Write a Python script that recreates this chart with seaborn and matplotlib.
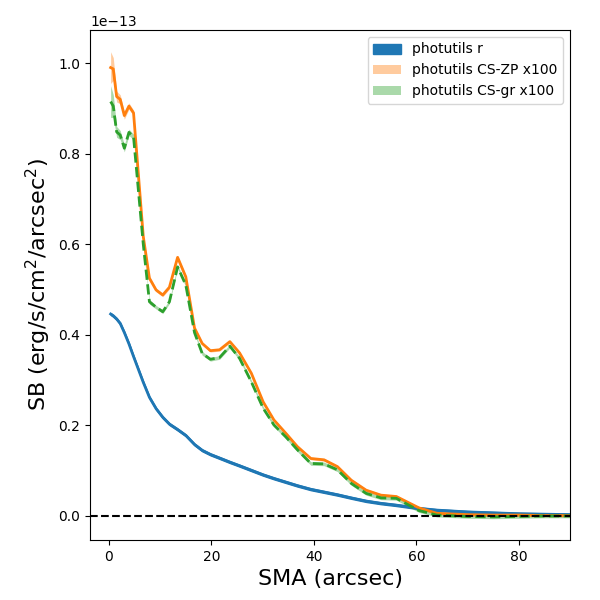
import numpy as np
import pandas as pd
import seaborn as sns
import matplotlib
matplotlib.use("Agg")
import matplotlib.pyplot as plt

# SMA grid (arcsec) and surface brightness profiles in units of 1e-13 erg/s/cm^2/arcsec^2
sma = [0.33, 0.84, 1.5, 2.2, 3.0, 3.9, 4.8, 6.7, 7.9, 9.2, 10.5, 11.8, 13.4, 15.0,
       16.7, 18.2, 19.8, 21.6, 23.6, 25.5, 27.8, 30.1, 32.2, 34.5, 36.8, 39.4, 42.0,
       44.6, 47.3, 50.2, 53.1, 56.1, 60.5, 64.0, 70.0, 75.0, 80.0, 85.0, 90.0, 95.0]

sb_r = [0.446, 0.442, 0.435, 0.425, 0.405, 0.380, 0.352, 0.295, 0.262, 0.237, 0.218,
        0.203, 0.191, 0.178, 0.158, 0.145, 0.136, 0.128, 0.119, 0.111, 0.101, 0.091,
        0.083, 0.075, 0.067, 0.059, 0.053, 0.047, 0.040, 0.033, 0.028, 0.024, 0.017,
        0.013, 0.009, 0.007, 0.005, 0.004, 0.003, 0.003]
err_r = [0.002, 0.002, 0.002, 0.002, 0.002, 0.002, 0.002, 0.002, 0.002, 0.002, 0.002,
         0.002, 0.002, 0.002, 0.002, 0.002, 0.002, 0.002, 0.002, 0.002, 0.002, 0.002,
         0.002, 0.002, 0.002, 0.002, 0.002, 0.002, 0.002, 0.002, 0.002, 0.002, 0.002,
         0.002, 0.002, 0.002, 0.002, 0.002, 0.002, 0.002]

# CS profiles already multiplied by 100
sb_zp = [0.990, 0.987, 0.926, 0.920, 0.884, 0.905, 0.890, 0.617, 0.525, 0.499, 0.488,
         0.505, 0.571, 0.528, 0.415, 0.381, 0.365, 0.367, 0.385, 0.360, 0.315, 0.252,
         0.212, 0.183, 0.153, 0.127, 0.124, 0.109, 0.079, 0.057, 0.046, 0.043, 0.018,
         0.006, 0.003, 0.002, 0.002, 0.001, 0.001, 0.001]
err_zp = [0.035, 0.025, 0.012, 0.010, 0.008, 0.007, 0.006, 0.005, 0.005, 0.004, 0.004,
          0.004, 0.004, 0.004, 0.003, 0.003, 0.003, 0.003, 0.003, 0.003, 0.003, 0.003,
          0.003, 0.003, 0.003, 0.003, 0.003, 0.003, 0.003, 0.003, 0.003, 0.003, 0.003,
          0.003, 0.003, 0.003, 0.003, 0.003, 0.003, 0.003]

sb_gr = [0.915, 0.905, 0.848, 0.841, 0.812, 0.847, 0.837, 0.600, 0.473, 0.461, 0.451,
         0.473, 0.550, 0.510, 0.405, 0.359, 0.346, 0.350, 0.375, 0.348, 0.296, 0.238,
         0.201, 0.175, 0.146, 0.116, 0.115, 0.102, 0.072, 0.050, 0.040, 0.039, 0.012,
         0.002, -0.001, -0.002, -0.001, 0.000, 0.000, 0.000]
err_gr = [0.035, 0.025, 0.012, 0.010, 0.008, 0.007, 0.006, 0.005, 0.005, 0.004, 0.004,
          0.004, 0.004, 0.004, 0.004, 0.004, 0.004, 0.004, 0.004, 0.004, 0.004, 0.004,
          0.004, 0.004, 0.004, 0.004, 0.004, 0.004, 0.004, 0.004, 0.004, 0.004, 0.004,
          0.004, 0.004, 0.004, 0.004, 0.004, 0.004, 0.004]

scale = 1e-13
df = pd.DataFrame({"sma": sma,
                   "r": np.array(sb_r) * scale, "r_err": np.array(err_r) * scale,
                   "zp": np.array(sb_zp) * scale, "zp_err": np.array(err_zp) * scale,
                   "gr": np.array(sb_gr) * scale, "gr_err": np.array(err_gr) * scale})

fig = plt.figure(figsize=(6, 6), dpi=100)
ax = fig.add_axes([0.15, 0.10, 0.80, 0.85])

# photutils r-band profile
ax.fill_between(df.sma, df.r - df.r_err, df.r + df.r_err, color="C0", label="photutils r")
sns.lineplot(data=df, x="sma", y="r", color="C0", lw=2, ax=ax)

# CS profiles scaled by 100
ax.fill_between(df.sma, df.zp - df.zp_err, df.zp + df.zp_err, color="C1", alpha=0.4,
                lw=0, label="photutils CS-ZP x100")
sns.lineplot(data=df, x="sma", y="zp", color="C1", lw=2, ax=ax)

ax.fill_between(df.sma, df.gr - df.gr_err, df.gr + df.gr_err, color="C2", alpha=0.4,
                lw=0, label="photutils CS-gr x100")
sns.lineplot(data=df, x="sma", y="gr", color="C2", lw=2, ls="--", ax=ax)

ax.axhline(0, color="k", ls="--", lw=1.5)

ax.set_xlim(-3.7, 90)
ax.set_ylim(-0.053e-13, 1.073e-13)
ax.set_xlabel("SMA (arcsec)", fontsize=16)
ax.set_ylabel("SB (erg/s/cm$^2$/arcsec$^2$)", fontsize=16)
ax.legend(loc="upper right")

fig.savefig("out.png", dpi=100)
